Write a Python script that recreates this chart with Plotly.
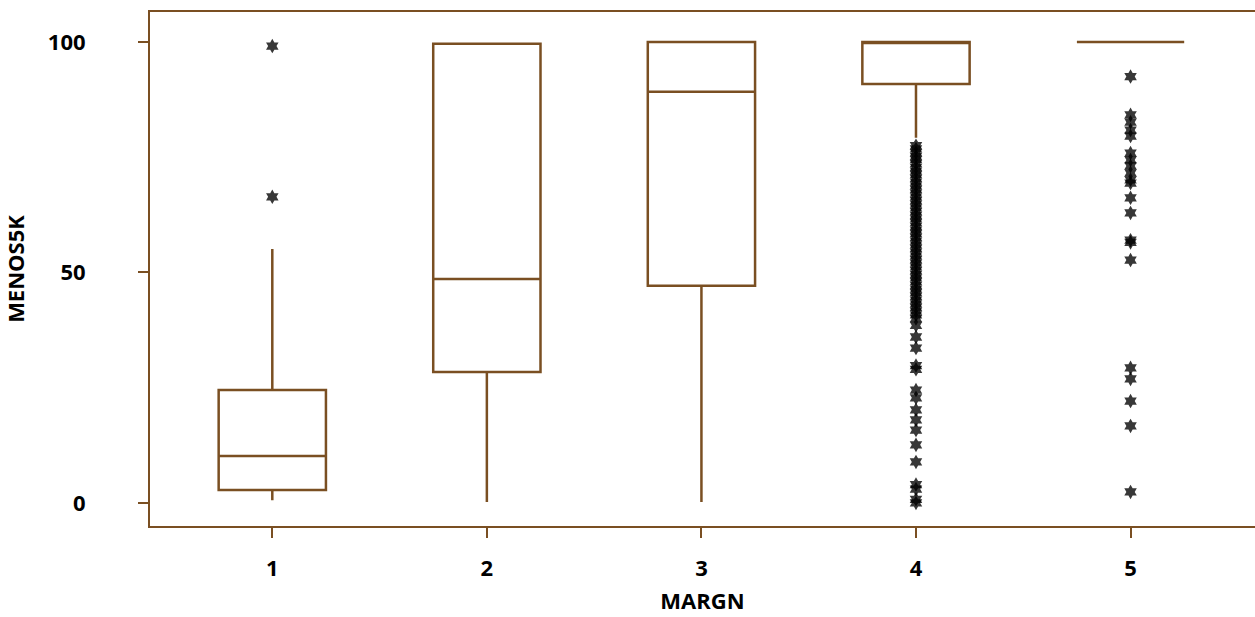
import plotly.graph_objects as go

categories = [1, 2, 3, 4, 5]
q1 = [2.8, 28.4, 47.1, 90.9, 100]
median = [10.2, 48.6, 89.2, 100, 100]
q3 = [24.5, 99.6, 100, 100, 100]
lowerfence = [0.6, 0.2, 0.2, 79.2, 100]
upperfence = [55.1, 99.6, 100, 100, 100]

outliers_1 = [99.1, 66.4]
outliers_4 = [77.5, 76.8, 76.0, 75.2, 74.5, 73.6, 72.8, 72.0, 71.2, 70.4, 69.6, 68.8,
              68.0, 67.2, 66.4, 65.6, 64.8, 64.0, 63.2, 62.4, 61.6, 60.8, 60.0, 59.2,
              58.4, 57.6, 56.8, 56.0, 55.2, 54.4, 53.6, 52.8, 52.0, 51.2, 50.4, 49.6,
              48.8, 48.0, 47.2, 46.4, 45.6, 44.8, 44.0, 43.2, 42.4, 41.6, 40.8, 40.0,
              38.5, 36.0, 33.6, 29.8, 29.0, 24.5, 22.8, 20.2, 18.0, 15.8, 12.6, 8.9,
              4.0, 3.0, 0.8, 0.0]
outliers_5 = [92.5, 84.2, 82.6, 80.9, 79.6, 75.9, 74.4, 73.1, 71.6, 70.1, 69.4,
              66.2, 62.9, 57.0, 56.5, 52.7, 29.3, 26.9, 22.1, 16.7, 2.4]

BROWN = "#7a4f22"

fig = go.Figure()
for i, c in enumerate(categories):
    fig.add_trace(go.Box(
        x=[c], q1=[q1[i]], median=[median[i]], q3=[q3[i]],
        lowerfence=[lowerfence[i]], upperfence=[upperfence[i]],
        width=0.5, line=dict(color=BROWN, width=2.5),
        fillcolor="rgba(0,0,0,0)", whiskerwidth=0, showlegend=False,
        hoverinfo="skip"))

out_x = [1] * len(outliers_1) + [4] * len(outliers_4) + [5] * len(outliers_5)
out_y = outliers_1 + outliers_4 + outliers_5
fig.add_trace(go.Scatter(
    x=out_x, y=out_y, mode="markers", showlegend=False,
    marker=dict(symbol="hexagram", size=11, color="rgba(0,0,0,0.78)",
                line=dict(width=0))))

font_main = dict(family="Open Sans", size=22, color="black")

fig.update_layout(
    width=1255, height=617,
    margin=dict(l=150, r=0, t=12, b=91),
    paper_bgcolor="white", plot_bgcolor="white",
    font=font_main,
    xaxis=dict(
        range=[0.43, 5.58], tickmode="array", tickvals=categories,
        ticktext=["<b>%d</b>" % c for c in categories],
        tickfont=font_main, automargin=False,
        showgrid=False, zeroline=False,
        showline=True, linecolor=BROWN, linewidth=2, mirror=True,
        ticks="outside", ticklen=10, tickwidth=2, tickcolor=BROWN,
        ticklabelstandoff=12,
        title=dict(text="<b>MARGN</b>", standoff=12, font=font_main)),
    yaxis=dict(
        range=[-5.0, 106.5], tickmode="array", tickvals=[0, 50, 100],
        ticktext=["<b>0</b>", "<b>50</b>", "<b>100</b>"],
        tickfont=font_main, automargin=False,
        showgrid=False, zeroline=False,
        showline=True, linecolor=BROWN, linewidth=2,
        ticks="outside", ticklen=10, tickwidth=2, tickcolor=BROWN,
        ticklabelstandoff=48,
        title=dict(text="<b>MENOS5K</b>", standoff=18, font=font_main)),
)

fig.write_html("out.html", config={"displayModeBar": False},
               post_script="document.body.style.margin='0';document.body.style.overflow='hidden';")
